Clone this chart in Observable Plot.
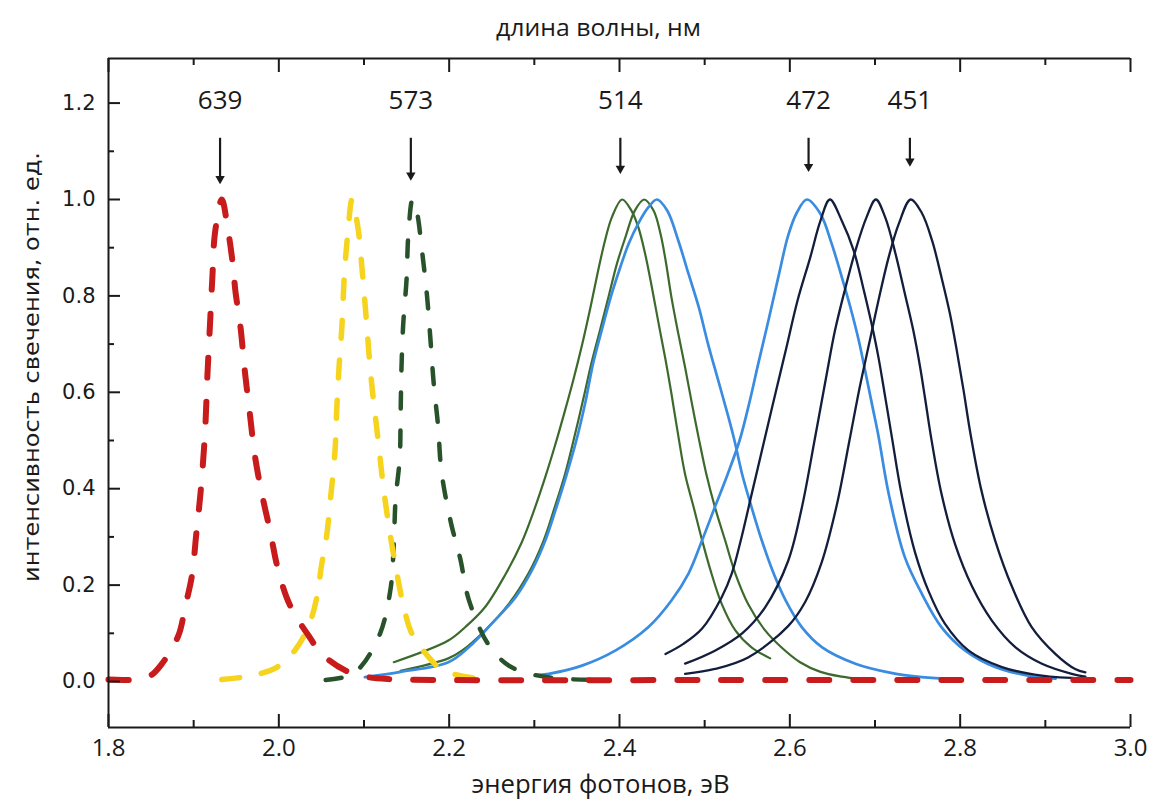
<!DOCTYPE html>
<html><head><meta charset="utf-8">
<script src="https://cdn.jsdelivr.net/npm/d3@7"></script>
<script src="https://cdn.jsdelivr.net/npm/@observablehq/plot@0.6"></script>
<style>
html,body{margin:0;padding:0;background:#fff;}
#chart{width:1153px;height:807px;overflow:hidden;}
</style></head><body><div id="chart"></div>
<script>
// ---- data (photon energy, eV / relative intensity) ----
const redE = [1.800,1.829,1.849,1.862,1.882,1.890,1.898,1.903,1.908,1.912,1.914,1.916,1.919,1.922,1.925,1.933,1.940,1.946,1.949,1.955,1.960,1.966,1.972,1.980,1.990,1.998,2.009,2.020,2.035,2.050,2.078,2.102,2.129,2.200,2.500,2.800,3.000];
const redI = [0.004,0.004,0.012,0.035,0.095,0.155,0.22,0.305,0.39,0.48,0.54,0.63,0.735,0.84,0.93,1.0,0.94,0.865,0.81,0.735,0.645,0.555,0.467,0.39,0.31,0.24,0.175,0.135,0.095,0.058,0.023,0.01,0.005,0.003,0.003,0.003,0.003];

const yellowE = [1.933,1.964,1.996,2.019,2.035,2.045,2.050,2.056,2.061,2.066,2.068,2.071,2.074,2.077,2.081,2.086,2.093,2.098,2.103,2.107,2.111,2.116,2.123,2.129,2.137,2.146,2.156,2.172,2.191,2.213,2.243];
const yellowI = [0.004,0.011,0.028,0.065,0.115,0.178,0.24,0.30,0.385,0.48,0.565,0.66,0.735,0.845,0.93,1.0,0.94,0.85,0.745,0.655,0.585,0.51,0.40,0.325,0.24,0.16,0.10,0.059,0.025,0.012,0.004];

const dgreenE = [2.055,2.082,2.097,2.119,2.131,2.135,2.137,2.142,2.143,2.144,2.146,2.150,2.152,2.157,2.162,2.168,2.174,2.178,2.182,2.187,2.191,2.202,2.213,2.223,2.246,2.270,2.297,2.331,2.378];
const dgreenI = [0.003,0.012,0.032,0.10,0.19,0.285,0.375,0.465,0.555,0.65,0.74,0.835,0.925,1.0,0.975,0.895,0.80,0.71,0.615,0.53,0.435,0.33,0.255,0.17,0.077,0.033,0.015,0.006,0.003];

const green1E = [2.135,2.199,2.219,2.242,2.266,2.285,2.299,2.313,2.324,2.336,2.346,2.356,2.366,2.375,2.383,2.391,2.403,2.414,2.422,2.430,2.438,2.446,2.454,2.461,2.469,2.477,2.487,2.497,2.508,2.520,2.536,2.555,2.577];
const green1I = [0.04,0.085,0.113,0.154,0.222,0.288,0.352,0.425,0.488,0.562,0.627,0.698,0.777,0.853,0.915,0.963,1.0,0.977,0.943,0.888,0.818,0.742,0.668,0.597,0.51,0.43,0.362,0.293,0.224,0.161,0.106,0.071,0.048];

const green2E = [2.143,2.199,2.215,2.242,2.270,2.293,2.311,2.324,2.336,2.346,2.358,2.367,2.377,2.387,2.397,2.407,2.418,2.429,2.440,2.448,2.454,2.461,2.469,2.477,2.485,2.493,2.502,2.512,2.524,2.536,2.551,2.571,2.590,2.612,2.636,2.661,2.683];
const green2I = [0.022,0.048,0.064,0.106,0.161,0.224,0.293,0.362,0.43,0.50,0.59,0.66,0.728,0.797,0.867,0.922,0.977,1.0,0.977,0.93,0.875,0.797,0.722,0.652,0.577,0.505,0.43,0.362,0.293,0.224,0.161,0.106,0.071,0.04,0.02,0.01,0.005];

const blue1E = [2.101,2.143,2.199,2.223,2.250,2.278,2.297,2.313,2.326,2.338,2.350,2.360,2.369,2.379,2.391,2.401,2.411,2.422,2.434,2.444,2.456,2.469,2.481,2.493,2.504,2.516,2.528,2.535,2.544,2.555,2.567,2.581,2.596,2.614,2.638,2.677,2.716,2.755,2.794];
const blue1I = [0.009,0.02,0.04,0.071,0.12,0.175,0.23,0.293,0.362,0.43,0.505,0.58,0.66,0.728,0.805,0.86,0.909,0.95,0.984,1.0,0.977,0.915,0.846,0.777,0.70,0.624,0.548,0.5,0.43,0.362,0.293,0.224,0.165,0.113,0.071,0.037,0.019,0.009,0.005];

const blue2E = [2.301,2.317,2.356,2.395,2.434,2.461,2.481,2.497,2.512,2.527,2.541,2.552,2.563,2.575,2.587,2.598,2.608,2.620,2.636,2.649,2.661,2.671,2.681,2.690,2.698,2.704,2.716,2.735,2.755,2.778,2.806,2.841,2.880,2.912];
const blue2I = [0.013,0.016,0.033,0.064,0.113,0.168,0.224,0.293,0.362,0.43,0.5,0.575,0.66,0.75,0.843,0.925,0.972,1.0,0.97,0.909,0.839,0.777,0.707,0.631,0.562,0.51,0.39,0.258,0.182,0.113,0.064,0.03,0.012,0.006];

const navy1E = [2.454,2.475,2.497,2.520,2.532,2.542,2.556,2.570,2.583,2.596,2.609,2.624,2.636,2.647,2.661,2.675,2.686,2.696,2.704,2.712,2.720,2.731,2.747,2.763,2.782,2.810,2.849,2.896,2.946];
const navy1I = [0.057,0.078,0.11,0.175,0.225,0.29,0.395,0.5,0.597,0.693,0.79,0.88,0.956,1.0,0.956,0.894,0.818,0.742,0.673,0.59,0.505,0.39,0.268,0.187,0.12,0.064,0.03,0.012,0.006];

const navy2E = [2.477,2.512,2.544,2.571,2.598,2.614,2.629,2.643,2.653,2.665,2.677,2.690,2.701,2.712,2.724,2.735,2.745,2.753,2.759,2.766,2.778,2.794,2.814,2.837,2.865,2.896,2.931,2.947];
const navy2I = [0.037,0.064,0.10,0.154,0.25,0.36,0.5,0.635,0.728,0.815,0.894,0.963,1.0,0.963,0.888,0.805,0.728,0.652,0.585,0.505,0.39,0.285,0.197,0.127,0.071,0.037,0.016,0.01];

const navy3E = [2.477,2.512,2.551,2.598,2.618,2.637,2.655,2.670,2.682,2.693,2.704,2.716,2.728,2.742,2.755,2.767,2.778,2.788,2.796,2.804,2.812,2.825,2.841,2.861,2.884,2.912,2.935,2.947];
const navy3I = [0.016,0.026,0.05,0.115,0.165,0.245,0.365,0.5,0.61,0.70,0.79,0.88,0.95,1.0,0.972,0.915,0.839,0.763,0.687,0.604,0.515,0.396,0.293,0.196,0.113,0.057,0.026,0.019];

// wavelength markers (nm) above peaks
const peakLabels = ["639","573","514","472","451"];
const peakE      = [1.931,2.155,2.401,2.622,2.741];
const arrowTipI  = [1.039,1.046,1.060,1.064,1.075];
const arrowTopI  = 1.127;
const labelI     = 1.205;

// axes
const xDomain = [1.8, 3.0];
const yDomain = [-0.0954, 1.2925];
const xMajor = [1.8,2.0,2.2,2.4,2.6,2.8,3.0];
const xMinor = [1.9,2.1,2.3,2.5,2.7,2.9];
const yMajor = [0.0,0.2,0.4,0.6,0.8,1.0,1.2];
const yMinor = [0.1,0.3,0.5,0.7,0.9,1.1];
const topTitle = "длина волны, нм";
const xTitle = "энергия фотонов, эВ";
const yTitle = "интенсивность свечения, отн. ед.";

// ---- chart ----
const W = 1153, H = 807, mL = 108, mR = 23, mT = 58, mB = 80;
const plotW = W - mL - mR, plotH = H - mT - mB;
const sansA = '"Open Sans","Noto Sans",sans-serif';
const sansB = '"DejaVu Sans",Verdana,sans-serif';
const ink = "#1a1a1a";

const series = [
  {x: green1E, y: green1I, stroke: "#3c6a2c", w: 2.2, dash: null},
  {x: green2E, y: green2I, stroke: "#3c6a2c", w: 2.2, dash: null},
  {x: blue1E,  y: blue1I,  stroke: "#3a8ce0", w: 2.7, dash: null},
  {x: blue2E,  y: blue2I,  stroke: "#3a8ce0", w: 2.7, dash: null},
  {x: navy1E,  y: navy1I,  stroke: "#131d3c", w: 2.3, dash: null},
  {x: navy2E,  y: navy2I,  stroke: "#131d3c", w: 2.3, dash: null},
  {x: navy3E,  y: navy3I,  stroke: "#131d3c", w: 2.3, dash: null},
  {x: dgreenE, y: dgreenI, stroke: "#28522a", w: 4.5, dash: "16,22"},
  {x: yellowE, y: yellowI, stroke: "#f6d31c", w: 5.5, dash: "18,22"},
  {x: redE,    y: redI,    stroke: "#c81b1b", w: 6,   dash: "20,24"}
];

const lineMarks = series.map(s => Plot.line(
  s.x.map((e, i) => ({e, v: s.y[i]})),
  {x: "e", y: "v", stroke: s.stroke, strokeWidth: s.w,
   strokeDasharray: s.dash, strokeLinecap: "round", strokeLinejoin: "round",
   curve: "catmull-rom"}
));

const peaks = peakLabels.map((t, i) => ({t, e: peakE[i], tip: arrowTipI[i]}));

const chart = Plot.plot({
  width: W, height: H,
  marginLeft: mL, marginRight: mR, marginTop: mT, marginBottom: mB,
  x: {domain: xDomain},
  y: {domain: yDomain},
  style: {background: "#fff", overflow: "visible"},
  marks: [
    ...lineMarks,
    // axis lines (bottom, top, left)
    Plot.ruleY([yDomain[0]], {stroke: ink, strokeWidth: 2}),
    Plot.ruleY([yDomain[1]], {stroke: ink, strokeWidth: 2}),
    Plot.ruleX([xDomain[0]], {stroke: ink, strokeWidth: 2}),
    // inward ticks
    Plot.tickX(xMajor, {insetTop: plotH - 13, stroke: ink, strokeWidth: 2}),
    Plot.tickX(xMinor, {insetTop: plotH - 7, stroke: ink, strokeWidth: 2}),
    Plot.tickX(xMajor, {insetBottom: plotH - 14, stroke: ink, strokeWidth: 2}),
    Plot.tickX(xMinor, {insetBottom: plotH - 7, stroke: ink, strokeWidth: 2}),
    Plot.tickY(yMajor, {insetRight: plotW - 12, stroke: ink, strokeWidth: 2}),
    Plot.tickY(yMinor, {insetRight: plotW - 6, stroke: ink, strokeWidth: 2}),
    // tick labels
    Plot.axisX({ticks: xMajor, tickSize: 0, tickPadding: 11, tickFormat: d => d.toFixed(1),
      fontSize: 24, fontFamily: sansA, label: null, color: ink}),
    Plot.axisY({ticks: yMajor, tickSize: 0, tickPadding: 13, tickFormat: d => d.toFixed(1),
      fontSize: 21, fontFamily: sansB, label: null, color: ink}),
    // titles
    Plot.text([topTitle], {frameAnchor: "top", dx: -21, dy: -30, lineAnchor: "middle", textAnchor: "middle",
      fontSize: 24, fontFamily: sansA, fill: ink, ariaDescription: "top-title"}),
    Plot.text([xTitle], {frameAnchor: "bottom", dx: -19, dy: 57, lineAnchor: "middle", textAnchor: "middle",
      fontSize: 25, fontFamily: sansA, fill: ink, ariaDescription: "x-title"}),
    Plot.text([yTitle], {frameAnchor: "left", dx: -77, dy: -26, rotate: -90, lineAnchor: "middle", textAnchor: "middle",
      fontSize: 22, fontFamily: sansB, fill: ink, ariaDescription: "y-title"}),
    // wavelength markers
    Plot.text(peaks, {x: "e", y: labelI, text: "t", fontSize: 26, fontFamily: sansA, fill: ink, lineAnchor: "middle"}),
    Plot.ruleX(peaks, {x: "e", y1: arrowTopI, y2: "tip", stroke: ink, strokeWidth: 2.2}),
    Plot.dot(peaks, {x: "e", y: "tip", symbol: "triangle", rotate: 180, r: 3.5, fill: ink, stroke: "none", dy: -2})
  ]
});
document.getElementById("chart").appendChild(chart);

// condensed look for the titles: fit each title to the width measured on the picture
const fitWidths = {"top-title": 205, "x-title": 258, "y-title": 430};
Object.entries(fitWidths).forEach(([k, w]) => {
  d3.select(chart).selectAll(`g[aria-description="${k}"] text`)
    .attr("textLength", w).attr("lengthAdjust", "spacingAndGlyphs");
});
</script>
</body></html>
